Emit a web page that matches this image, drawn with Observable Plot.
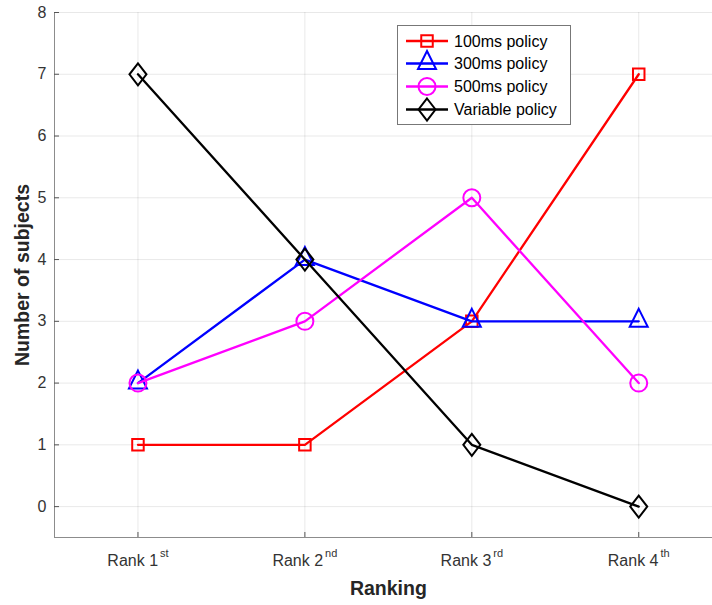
<!DOCTYPE html>
<html><head><meta charset="utf-8">
<script src="https://cdn.jsdelivr.net/npm/d3@7"></script>
<script src="https://cdn.jsdelivr.net/npm/@observablehq/plot@0.6"></script>
<style>
body{margin:0;background:#fff;}
#wrap{position:relative;width:712px;height:605px;font-family:"Liberation Sans",Arial,sans-serif;overflow:hidden;}
#legend{position:absolute;left:397px;top:25px;}
</style></head><body><div id="wrap"></div>
<script>
const ranks = [1, 2, 3, 4];
const rankNums = ["1", "2", "3", "4"];
const rankSups = ["st", "nd", "rd", "th"];
const yTicks = [0, 1, 2, 3, 4, 5, 6, 7, 8];
const seriesNames = ["100ms policy", "300ms policy", "500ms policy", "Variable policy"];
const seriesColors = ["#ff0000", "#0000ff", "#ff00ff", "#000000"];
const v100 = [1, 1, 3, 7];
const v300 = [2, 4, 3, 3];
const v500 = [2, 3, 5, 2];
const vVar = [7, 4, 1, 0];
const seriesValues = [v100, v300, v500, vVar];

const xDomain = [0.5, 4.5];
const yDomain = [-0.5, 8];

const symSquare = {draw(c){const s=5.75;c.moveTo(-s,-s);c.lineTo(s,-s);c.lineTo(s,s);c.lineTo(-s,s);c.closePath();}};
const symTri = {draw(c){c.moveTo(0,-12.5);c.lineTo(9,5.5);c.lineTo(-9,5.5);c.closePath();}};
const symCircle = {draw(c){c.moveTo(8.5,0);c.arc(0,0,8.5,0,2*Math.PI);c.closePath();}};
const symDiamond = {draw(c){c.moveTo(0,-11);c.lineTo(8.5,0);c.lineTo(0,11);c.lineTo(-8.5,0);c.closePath();}};
const symbols = [symSquare, symTri, symCircle, symDiamond];

const axisColor = "#8c8c8c";
const textColor = "#333333";

const seriesMarks = seriesValues.flatMap((vals, i) => {
  const d = ranks.map((r, j) => ({rank: r, value: vals[j]}));
  return [
    Plot.line(d, {x: "rank", y: "value", stroke: seriesColors[i], strokeWidth: 2.3}),
    Plot.dot(d, {x: "rank", y: "value", stroke: seriesColors[i], strokeWidth: 2, fill: "none", symbol: symbols[i], strokeLinejoin: "miter"})
  ];
});

const chart = Plot.plot({
  width: 712, height: 605,
  marginLeft: 54, marginRight: 0, marginTop: 12, marginBottom: 68,
  style: {fontFamily: '"Liberation Sans", Arial, sans-serif', fontSize: "16px", background: "#fff"},
  x: {type: "linear", domain: xDomain, range: [54, 721.7]},
  y: {type: "linear", domain: yDomain, range: [537, 12]},
  marks: [
    Plot.gridY(yTicks, {stroke: "#000", strokeOpacity: 0.09}),
    Plot.gridX(ranks, {stroke: "#000", strokeOpacity: 0.09}),
    Plot.ruleX([xDomain[0]], {stroke: axisColor}),
    Plot.ruleY([yDomain[0]], {stroke: axisColor}),
    Plot.axisY(yTicks, {tickSize: -5, stroke: "#555", fill: "none", label: null}),
    Plot.axisY(yTicks, {tickSize: 0, tickPadding: 8, fill: textColor, fontSize: 16, label: null, tickFormat: d => String(d)}),
    Plot.axisX(ranks, {tickSize: -5, stroke: "#555", fill: "none", label: null}),
    Plot.axisX(ranks, {tickSize: 0, tickPadding: 17, fill: textColor, fontSize: 16, label: null, tickFormat: d => "Rank " + rankNums[d - 1]}),
    Plot.text(["Ranking"], {x: [d3.mean(xDomain)], frameAnchor: "bottom", dy: 51, lineAnchor: "middle", textAnchor: "middle", fontWeight: "bold", fontSize: 19.5, fill: "#262626"}),
    Plot.text(["Number of subjects"], {y: [d3.mean(yDomain)], frameAnchor: "left", dx: -32, rotate: -90, lineAnchor: "middle", textAnchor: "middle", fontWeight: "bold", fontSize: 19.5, fill: "#262626"}),
    ...seriesMarks
  ]
});

document.getElementById("wrap").appendChild(chart);

// superscripts on x tick labels
d3.select(chart).selectAll('g[aria-label="x-axis tick label"] text').each(function(d, i) {
  const t = d3.select(this);
  const txt = t.text();
  const idx = rankNums.findIndex(n => txt === "Rank " + n);
  const k = idx >= 0 ? idx : i;
  t.text(null);
  t.append("tspan").text("Rank " + rankNums[k]);
  t.append("tspan").attr("dx", 2).attr("dy", -9).attr("font-size", 11).text(rankSups[k]);
});

// legend
const lg = d3.select("#wrap").append("svg").attr("id", "legend").attr("width", 175).attr("height", 100);
lg.append("rect").attr("x", 0.5).attr("y", 0.5).attr("width", 173).attr("height", 99).attr("fill", "#fff").attr("stroke", "#777");
const rowY = [16, 38.5, 61.5, 84.5];
seriesNames.forEach((name, i) => {
  const g = lg.append("g").attr("transform", `translate(0,${rowY[i]})`);
  g.append("line").attr("x1", 9).attr("x2", 51).attr("stroke", seriesColors[i]).attr("stroke-width", 2.3);
  const p = d3.path(); symbols[i].draw(p, 0);
  g.append("path").attr("d", p.toString()).attr("transform", "translate(30,0)").attr("fill", "none").attr("stroke", seriesColors[i]).attr("stroke-width", 2).attr("stroke-linejoin", "miter");
  g.append("text").attr("x", 57).attr("dy", "0.35em").attr("font-size", 16).attr("fill", "#000").attr("font-family", '"Liberation Sans", Arial, sans-serif').text(name);
});
</script>
</body></html>
